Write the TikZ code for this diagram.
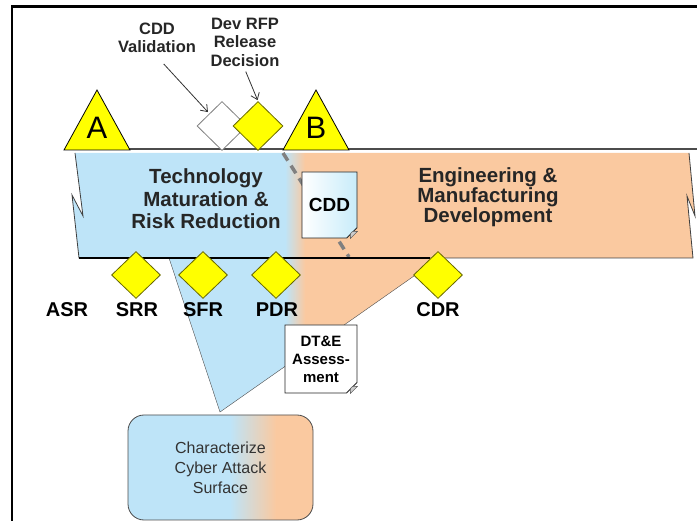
\documentclass[tikz,border=0pt]{standalone}
\usepackage{fontspec}
\setmainfont{Liberation Sans}
\usetikzlibrary{shapes.geometric,shapes.misc,arrows.meta}

\definecolor{tmblue}{RGB}{190,228,248}
\definecolor{emdorange}{RGB}{250,201,160}
\definecolor{msyellow}{RGB}{255,255,0}
\definecolor{docblue}{RGB}{200,236,250}

% the shaded path always covers 25bp..75bp of the shading
\pgfdeclarehorizontalshading{bandfade}{100bp}{color(0bp)=(tmblue); color(42.1bp)=(tmblue); color(43.7bp)=(emdorange); color(100bp)=(emdorange)}
\pgfdeclarehorizontalshading{funnelfade}{100bp}{color(0bp)=(tmblue); color(46.6bp)=(tmblue); color(50.3bp)=(emdorange); color(100bp)=(emdorange)}
\pgfdeclarehorizontalshading{boxfade}{100bp}{color(0bp)=(tmblue); color(52.5bp)=(tmblue); color(65bp)=(emdorange); color(100bp)=(emdorange)}

\tikzset{
  milestone/.style={fill=msyellow, draw=black, thick},
  decision/.style={diamond, fill=msyellow, draw=black!60!msyellow, thick, inner sep=0pt, minimum width=49pt, minimum height=47pt},
  doc/.style={chamfered rectangle, chamfered rectangle corners=south east, chamfered rectangle xsep=7pt, draw=black!85, thick, inner sep=0pt, align=center, font=\bfseries\fontsize{15}{18}\selectfont},
  docfold/.style={fill=black!20, draw=black!70},
  pointer/.style={-{Straight Barb[length=6pt,width=9pt]}, draw=black!80, thick},
}

\begin{document}
\begin{tikzpicture}[x=1pt,y=-1pt]
        \useasboundingbox (0,0) rectangle (697,521);
        \draw[line width=2.5pt] (12,521) -- (12,6.5) -- (697,6.5);

        % phase band
        \shade[shading=bandfade] (75,153) -- (689,153) -- (695,216) -- (687,196) -- (693,258) -- (79,258) -- (72,195) -- (83,216) -- cycle;
        \draw[black!75, thick] (75,153) -- (83,216) -- (72,195) -- (79,258) -- (693,258) -- (687,196) -- (695,216) -- (689,153);
        \draw[black!70, line width=1.2pt] (65,149) -- (697,149);
        \draw[black!50, line width=3.5pt, dash pattern=on 9pt off 6pt] (283,153) -- (349,257);

        % funnel down to the cyber box
        \shade[shading=funnelfade] (169,258) -- (438,258) -- (414,276) -- (220,412) -- cycle;
        \draw[black!70] (169,258) -- (220,412) -- (414,276);
        \draw[line width=2pt] (79,258) -- (430,258);

        \filldraw[milestone] (97,90) -- (130,150) -- (64,150) -- cycle;
        \filldraw[milestone] (316,90) -- (349,150) -- (283,150) -- cycle;

        \begin{scope}[every node/.style={font=\fontsize{31}{31}\selectfont}]
            \node (msA) at (97,128) {A};
            \node (msB) at (316,128) {B};
        \end{scope}

        \node[decision, fill=white, draw=black!50, minimum width=50pt, minimum height=49pt] (cddval) at (222,126) {};
        \node[decision, minimum width=50pt, minimum height=49pt] (rfp) at (258,126) {};
        \node[decision] (srr) at (136,275) {};
        \node[decision] (sfr) at (203,275) {};
        \node[decision] (pdr) at (276,275) {};
        \node[decision] (cdr) at (438,275) {};

        \begin{scope}[every node/.style={font=\bfseries\fontsize{20}{22}\selectfont}]
            \node (asrlbl) at (67,310) {ASR};
            \node (srrlbl) at (137,310) {SRR};
            \node (sfrlbl) at (203,310) {SFR};
            \node (pdrlbl) at (277,310) {PDR};
            \node (cdrlbl) at (438,310) {CDR};
        \end{scope}

        \begin{scope}[every node/.style={align=center, text=black!85, font=\bfseries\fontsize{16.5}{18.5}\selectfont}]
            \node (cddvaltxt) at (157,38) {CDD\\Validation};
            \node (rfptxt) at (245,42) {Dev RFP\\Release\\Decision};
        \end{scope}
        \draw[pointer, shorten <=10pt, shorten >=2pt] (cddvaltxt.south) -- (cddval.north west);
        \draw[pointer, shorten <=2pt, shorten >=1pt] (rfptxt.south) -- (rfp.north);

        \node[align=center, text=black!85, font=\bfseries\fontsize{20.5}{22.5}\selectfont] (tmrr) at (206,199) {Technology\\Maturation \&\\Risk Reduction};
        \node[align=center, text=black!85, font=\bfseries\fontsize{20.5}{20}\selectfont] (emd) at (488,197) {Engineering \&\\Manufacturing\\Development};

        % documents
        \node[doc, left color=white, right color=docblue, minimum width=55pt, minimum height=66pt, font=\bfseries\fontsize{19}{19}\selectfont] (cdddoc) at (329.5,205) {CDD};
        \coordinate (cddcorner) at (cdddoc.east |- cdddoc.south);
        \filldraw[docfold] ([xshift=-7pt]cddcorner) .. controls ([xshift=-7pt,yshift=7pt]cddcorner) .. ([yshift=7pt]cddcorner) -- cycle;

        \node[doc, fill=white, minimum width=72pt, minimum height=68pt] (dtedoc) at (321,359) {DT\&E\\Assess-\\ment};
        \coordinate (dtecorner) at (dtedoc.east |- dtedoc.south);
        \filldraw[docfold] ([xshift=-7pt]dtecorner) .. controls ([xshift=-7pt,yshift=7pt]dtecorner) .. ([yshift=7pt]dtecorner) -- cycle;

        \node[shade, shading=boxfade, draw=black!70, thick, rounded corners=16pt, minimum width=185pt, minimum height=105pt, align=center, text=black!80, font=\fontsize{16}{20}\selectfont] (cyber) at (220.5,467.5) {Characterize\\Cyber Attack\\Surface};
    \end{tikzpicture}
\end{document}
